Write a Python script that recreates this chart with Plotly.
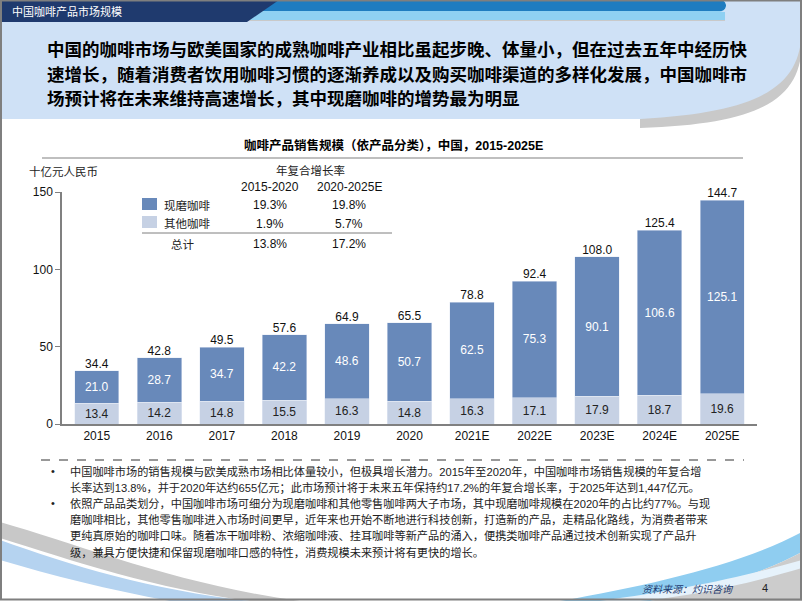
import plotly.graph_objects as go

W, H = 802, 601

categories = ["2015", "2016", "2017", "2018", "2019", "2020", "2021E", "2022E", "2023E", "2024E", "2025E"]
other_coffee = [13.4, 14.2, 14.8, 15.5, 16.3, 14.8, 16.3, 17.1, 17.9, 18.7, 19.6]
fresh_coffee = [21.0, 28.7, 34.7, 42.2, 48.6, 50.7, 62.5, 75.3, 90.1, 106.6, 125.1]
totals = [34.4, 42.8, 49.5, 57.6, 64.9, 65.5, 78.8, 92.4, 108.0, 125.4, 144.7]
y_ticks = [0, 50, 100, 150]

series_names = ["现磨咖啡", "其他咖啡"]
cagr_periods = ["2015-2020", "2020-2025E"]
cagr_fresh = ["19.3%", "19.8%"]
cagr_other = ["1.9%", "5.7%"]
cagr_total = ["13.8%", "17.2%"]

DARK = "#6889ba"
LIGHT = "#c6d1e4"
NAVY = "#1f3a6e"
CJK = "Noto Sans CJK SC"
LAT = "Arial, Liberation Sans, sans-serif"


def px(x):
    return x / W


def py(y):
    return 1 - y / H


def path(pts_str):
    out = []
    for tok in pts_str.split():
        if "," in tok:
            a, b = tok.split(",")
            out.append(f"{px(float(a)):.5f},{py(float(b)):.5f}")
        else:
            out.append(tok)
    return " ".join(out)


fig = go.Figure()

fig.add_trace(go.Bar(
    x=categories, y=other_coffee, name=series_names[1], marker_color=LIGHT,
    text=[f"{v:.1f}" for v in other_coffee], textposition="inside",
    insidetextanchor="middle", textfont=dict(color="#222222", size=12, family=LAT),
    hoverinfo="skip", showlegend=False,
))
fig.add_trace(go.Bar(
    x=categories, y=fresh_coffee, name=series_names[0], marker_color=DARK,
    text=[f"{v:.1f}" for v in fresh_coffee], textposition="inside",
    insidetextanchor="middle", textfont=dict(color="white", size=12, family=LAT),
    hoverinfo="skip", showlegend=False,
))
fig.add_trace(go.Scatter(
    x=categories, y=totals, mode="text", text=[f"{v:.1f}" for v in totals],
    textposition="top center", textfont=dict(color="#111111", size=12, family=LAT),
    hoverinfo="skip", showlegend=False, cliponaxis=False,
))

shapes = []
shapes.append(dict(type="rect", xref="paper", yref="paper", x0=0, x1=1, y0=py(22), y1=1,
                   fillcolor="#8fd0f2", line_width=0, layer="below"))
shapes.append(dict(type="path", xref="paper", yref="paper",
                   path=path("M 2,20 L 802,20 L 802,40 C 802,95 770,124 640,128 L 640,118 L 2,118 Z"),
                   fillcolor="#c9c9c9", line_width=0, layer="below"))
shapes.append(dict(type="path", xref="paper", yref="paper",
                   path=path("M 2,21 L 725,21 L 725,12 L 802,12 L 802,30 C 800,82 770,112 640,119 L 2,119 Z"),
                   fillcolor="#cfe1f6", line_width=0, layer="below"))
shapes.append(dict(type="path", xref="paper", yref="paper",
                   path=path("M 0,0 L 720,0 C 728,0 728,11 720,11 L 0,11 Z"),
                   fillcolor="#1f7cc0", line_width=0, layer="below"))
shapes.append(dict(type="path", xref="paper", yref="paper",
                   path=path("M 720,0 L 802,0 L 802,12 L 720,12 C 728,11 728,0 720,0 Z"),
                   fillcolor="#cfe1f6", line_width=0, layer="below"))
shapes.append(dict(type="path", xref="paper", yref="paper",
                   path=path("M 0,0 L 279,0 L 247,22 L 0,22 Z"),
                   fillcolor=NAVY, line_width=0, layer="below"))
shapes.append(dict(type="path", xref="paper", yref="paper",
                   path=path("M 0,522 C 80,545 180,585 300,601 L 250,601 C 160,590 70,560 0,538 Z"),
                   fillcolor="#c8c8c8", line_width=0, layer="below"))
shapes.append(dict(type="path", xref="paper", yref="paper",
                   path=path("M 0,540 C 70,565 150,590 250,601 L 170,601 C 110,590 50,575 0,560 Z"),
                   fillcolor="#b5d3f0", line_width=0, layer="below"))
shapes.append(dict(type="path", xref="paper", yref="paper",
                   path=path("M 560,601 C 650,585 740,565 802,532 L 802,552 C 760,575 700,592 650,601 Z"),
                   fillcolor="#8fcdf0", line_width=0, layer="below"))
shapes.append(dict(type="path", xref="paper", yref="paper",
                   path=path("M 650,601 C 700,592 760,575 802,552 L 802,601 Z"),
                   fillcolor="#cccccc", line_width=0, layer="below"))
shapes.append(dict(type="path", xref="paper", yref="paper",
                   path=path("M 600,601 C 680,590 740,578 802,560 L 802,568 C 740,586 690,596 640,601 Z"),
                   fillcolor="#e6f2fb", line_width=0, layer="below"))
shapes.append(dict(type="line", xref="paper", yref="paper", x0=px(42), x1=px(743), y0=py(158), y1=py(158),
                   line=dict(color="#bfbfbf", width=2)))
shapes.append(dict(type="line", xref="paper", yref="paper", x0=px(142), x1=px(392), y0=py(233), y1=py(233),
                   line=dict(color="#7f7f7f", width=1)))
shapes.append(dict(type="rect", xref="paper", yref="paper", x0=px(142), x1=px(157), y0=py(210), y1=py(198),
                   fillcolor=DARK, line_width=0))
shapes.append(dict(type="rect", xref="paper", yref="paper", x0=px(142), x1=px(157), y0=py(228), y1=py(216),
                   fillcolor=LIGHT, line_width=0))
shapes.append(dict(type="line", xref="paper", yref="paper", x0=px(41), x1=px(744), y0=py(460), y1=py(460),
                   line=dict(color="#333333", width=1, dash="dash")))
shapes.append(dict(type="rect", xref="paper", yref="paper", x0=px(1), x1=px(801), y0=py(599.5), y1=py(0.5),
                   line=dict(color="#7f7f7f", width=2), fillcolor="rgba(0,0,0,0)"))

ann = []


def text(x, y, s, size=12, color="#111111", family=CJK, xanchor="left", bold=False, italic=False):
    if bold:
        s = f"<b>{s}</b>"
    if italic:
        s = f"<i>{s}</i>"
    ann.append(dict(x=px(x), y=py(y), xref="paper", yref="paper", text=s, showarrow=False,
                    xanchor=xanchor, yanchor="middle", font=dict(size=size, color=color, family=family)))


text(10, 11, "中国咖啡产品市场规模", size=11, color="white")

title_lines = [
    "中国的咖啡市场与欧美国家的成熟咖啡产业相比虽起步晚、体量小，但在过去五年中经历快",
    "速增长，随着消费者饮用咖啡习惯的逐渐养成以及购买咖啡渠道的多样化发展，中国咖啡市",
    "场预计将在未来维持高速增长，其中现磨咖啡的增势最为明显",
]
for i, ln in enumerate(title_lines):
    text(45, 48 + 25 * i, ln, size=17.5, color="#000000", bold=True)

text(393, 145, "咖啡产品销售规模（依产品分类），中国，2015-2025E", size=12.5, color="#000000",
     xanchor="center", bold=True, family=f"{LAT}, {CJK}")
text(27, 171, "十亿元人民币", size=11.5, color="#222222")
text(310, 170, "年复合增长率", size=11.5, color="#222222", xanchor="center")
text(270, 187, cagr_periods[0], size=12, family=LAT, xanchor="center")
text(349, 187, cagr_periods[1], size=12, family=LAT, xanchor="center")
text(162, 205, series_names[0], size=11.5, color="#222222")
text(162, 223, series_names[1], size=11.5, color="#222222")
text(183, 244, "总计", size=11.5, color="#222222", xanchor="center")
text(270, 205, cagr_fresh[0], size=12, family=LAT, xanchor="center")
text(349, 205, cagr_fresh[1], size=12, family=LAT, xanchor="center")
text(270, 224, cagr_other[0], size=12, family=LAT, xanchor="center")
text(349, 224, cagr_other[1], size=12, family=LAT, xanchor="center")
text(270, 244, cagr_total[0], size=12, family=LAT, xanchor="center")
text(349, 244, cagr_total[1], size=12, family=LAT, xanchor="center")

bullet_lines = [
    (True, "中国咖啡市场的销售规模与欧美成熟市场相比体量较小，但极具增长潜力。2015年至2020年，中国咖啡市场销售规模的年复合增"),
    (False, "长率达到13.8%，并于2020年达约655亿元；此市场预计将于未来五年保持约17.2%的年复合增长率，于2025年达到1,447亿元。"),
    (True, "依照产品品类划分，中国咖啡市场可细分为现磨咖啡和其他零售咖啡两大子市场，其中现磨咖啡规模在2020年的占比约77%。与现"),
    (False, "磨咖啡相比，其他零售咖啡进入市场时间更早，近年来也开始不断地进行科技创新，打造新的产品，走精品化路线，为消费者带来"),
    (False, "更纯真原始的咖啡口味。随着冻干咖啡粉、浓缩咖啡液、挂耳咖啡等新产品的涌入，便携类咖啡产品通过技术创新实现了产品升"),
    (False, "级，兼具方便快捷和保留现磨咖啡口感的特性，消费规模未来预计将有更快的增长。"),
]
for i, (b, ln) in enumerate(bullet_lines):
    y = 471 + 16.2 * i
    if b:
        text(49, y, "•", size=11, color="#222222", family=LAT)
    text(68, y, ln, size=11.2, color="#222222", family=f"{LAT}, {CJK}")

text(736, 588, "资料来源：灼识咨询", size=10, color=NAVY, xanchor="right", italic=True)
text(765, 588, "4", size=11, color="#222222", family=LAT, xanchor="center")

fig.update_layout(
    width=W, height=H,
    margin=dict(l=0, r=0, t=0, b=0, pad=0, autoexpand=False),
    paper_bgcolor="white", plot_bgcolor="rgba(0,0,0,0)",
    barmode="stack", bargap=0.29,
    shapes=shapes, annotations=ann,
    xaxis=dict(domain=[px(62), px(757)], showline=True, linecolor="#808080", linewidth=1.5,
               ticks="", tickfont=dict(size=12, family=LAT, color="#111111"), showgrid=False,
               zeroline=False, fixedrange=True, automargin=False),
    yaxis=dict(domain=[py(424), py(192)], range=[0, 150], tickvals=y_ticks, showline=True,
               linecolor="#808080", linewidth=1.5, ticks="outside", ticklen=5, tickcolor="#808080",
               tickfont=dict(size=12, family=LAT, color="#111111"), showgrid=False, zeroline=False,
               fixedrange=True, automargin=False),
    showlegend=False,
)

fig.write_html("out.html", config={"displayModeBar": False},
               post_script="document.body.style.margin='0';document.body.style.overflow='hidden';")
